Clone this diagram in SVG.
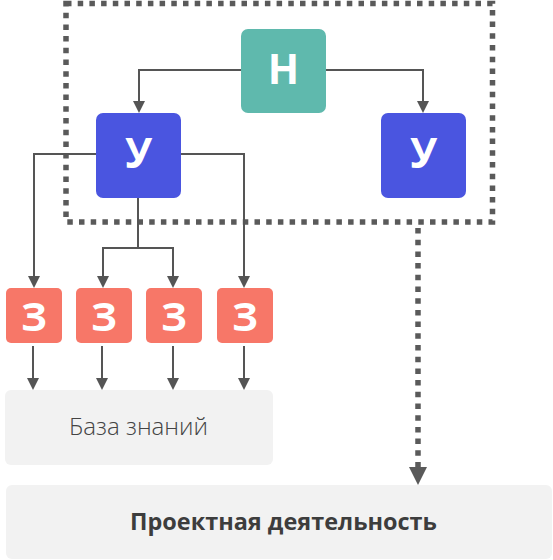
<svg xmlns="http://www.w3.org/2000/svg" width="553" height="560" viewBox="0 0 553 560">
  <style>
    .ln{fill:none;stroke:#555555;stroke-width:2}
    .dot{fill:none;stroke:#5a5a5a;stroke-width:5.5;stroke-dasharray:5.5 6.2}
    .lbl{font-family:"Open Sans","DejaVu Sans",sans-serif;font-weight:700;fill:#ffffff;text-anchor:middle}
    .n{fill:#5FB9AD}
    .u{fill:#4A55E0}
    .z{fill:#F77768}
    .g{fill:#F2F2F2}
  </style>
  <defs>
    <marker id="ah" markerUnits="userSpaceOnUse" markerWidth="12" markerHeight="12" viewBox="0 0 12 12" refX="6" refY="6" orient="auto">
      <path d="M0 0 L12 6 L0 12 Z" fill="#555555"/>
    </marker>
    <marker id="ahb" markerUnits="userSpaceOnUse" markerWidth="18" markerHeight="18" viewBox="0 0 18 18" refX="3" refY="9" orient="auto">
      <path d="M0 0 L18 9 L0 18 Z" fill="#5a5a5a"/>
    </marker>
  </defs>

  <g id="group-frame">
    <rect class="dot" x="66" y="3.5" width="426.5" height="218.5"/>
  </g>

  <g id="connectors">
    <path class="ln" d="M241 70 H139 V107" marker-end="url(#ah)"/>
    <path class="ln" d="M326 70 H423 V107" marker-end="url(#ah)"/>
    <path class="ln" d="M96 154 H34 V282" marker-end="url(#ah)"/>
    <path class="ln" d="M181 154 H244 V282" marker-end="url(#ah)"/>
    <path class="ln" d="M138 198 V248"/>
    <path class="ln" d="M103 248 H173 V282" marker-end="url(#ah)"/>
    <path class="ln" d="M103 247 V282" marker-end="url(#ah)"/>
    <path class="ln" d="M33 346 V384" marker-end="url(#ah)"/>
    <path class="ln" d="M102 346 V384" marker-end="url(#ah)"/>
    <path class="ln" d="M173 346 V384" marker-end="url(#ah)"/>
    <path class="ln" d="M244 346 V384" marker-end="url(#ah)"/>
    <path class="dot" d="M418 228 V470" marker-end="url(#ahb)"/>
  </g>

  <g id="node-n">
    <rect class="n" x="241" y="29" width="85" height="84" rx="7"/>
    <text class="lbl" x="283.5" y="84" font-size="41">Н</text>
  </g>
  <g id="node-u1">
    <rect class="u" x="96" y="113" width="85" height="85" rx="7"/>
    <text class="lbl" x="138.5" y="168" font-size="41">У</text>
  </g>
  <g id="node-u2">
    <rect class="u" x="381" y="113" width="85" height="85" rx="7"/>
    <text class="lbl" x="423.5" y="168" font-size="41">У</text>
  </g>
  <g id="node-z1">
    <rect class="z" x="6" y="288" width="56" height="55" rx="5"/>
    <text class="lbl" x="34" y="331" font-size="40">З</text>
  </g>
  <g id="node-z2">
    <rect class="z" x="76" y="288" width="56" height="55" rx="5"/>
    <text class="lbl" x="104" y="331" font-size="40">З</text>
  </g>
  <g id="node-z3">
    <rect class="z" x="146" y="288" width="56" height="55" rx="5"/>
    <text class="lbl" x="174" y="331" font-size="40">З</text>
  </g>
  <g id="node-z4">
    <rect class="z" x="217" y="288" width="56" height="55" rx="5"/>
    <text class="lbl" x="245" y="331" font-size="40">З</text>
  </g>
  <g id="node-kb">
    <rect class="g" x="5" y="390" width="268" height="75" rx="6"/>
    <text x="138.5" y="435" font-family="'Open Sans','DejaVu Sans',sans-serif" font-weight="300" font-size="24" fill="#444444" text-anchor="middle" textLength="139" lengthAdjust="spacingAndGlyphs">База знаний</text>
  </g>
  <g id="node-pd">
    <rect class="g" x="6" y="485" width="546" height="74" rx="6"/>
    <text x="283.5" y="530" font-family="'Open Sans','DejaVu Sans',sans-serif" font-weight="700" font-size="23" fill="#3d3d3d" text-anchor="middle" textLength="307" lengthAdjust="spacingAndGlyphs">Проектная деятельность</text>
  </g>
</svg>
